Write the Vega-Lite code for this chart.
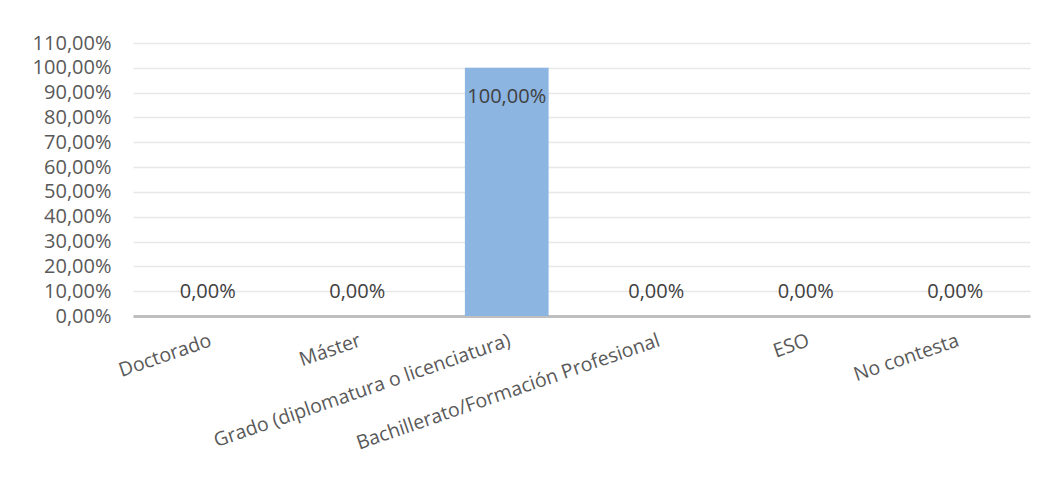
{
  "$schema": "https://vega.github.io/schema/vega-lite/v6.json",
  "autosize": {"type": "none"},
  "width": 897,
  "height": 273,
  "padding": {"left": 133, "top": 43, "right": 19, "bottom": 164},
  "background": "white",
  "data": {
    "values": [
      {"nivel": "Doctorado", "valor": 0},
      {"nivel": "Máster", "valor": 0},
      {"nivel": "Grado (diplomatura o licenciatura)", "valor": 1},
      {"nivel": "Bachillerato/Formación Profesional", "valor": 0},
      {"nivel": "ESO", "valor": 0},
      {"nivel": "No contesta", "valor": 0}
    ]
  },
  "encoding": {
    "x": {
      "field": "nivel",
      "type": "nominal",
      "sort": null,
      "scale": {"paddingInner": 0.44, "paddingOuter": 0.22},
      "axis": {
        "title": null,
        "labelAngle": -19,
        "labelFont": "Open Sans",
        "labelFontSize": 19.5,
        "labelColor": "#595959",
        "labelPadding": 15,
        "labelLimit": 0,
        "labelOverlap": false,
        "ticks": false,
        "domainColor": "#bfbfbf",
        "domainWidth": 3,
        "grid": false
      }
    },
    "y": {
      "field": "valor",
      "type": "quantitative",
      "scale": {"domain": [0, 1.1], "nice": false},
      "axis": {
        "title": null,
        "values": [0, 0.1, 0.2, 0.3, 0.4, 0.5, 0.6, 0.7, 0.8, 0.9, 1.0, 1.1],
        "format": ".2%",
        "labelFont": "Open Sans",
        "labelFontSize": 20,
        "labelColor": "#595959",
        "labelPadding": 22,
        "labelOverlap": false,
        "ticks": false,
        "domain": false,
        "grid": true,
        "gridColor": "#e8e8e8",
        "gridWidth": 1.5
      }
    }
  },
  "layer": [
    {
      "mark": {"type": "bar", "color": "#8DB5E2"}
    },
    {
      "transform": [{"filter": "datum.valor > 0"}],
      "mark": {"type": "text", "font": "Open Sans", "fontSize": 20, "color": "#404040", "baseline": "alphabetic", "dy": 35},
      "encoding": {"text": {"field": "valor", "type": "quantitative", "format": ".2%"}}
    },
    {
      "transform": [{"filter": "datum.valor == 0"}],
      "mark": {"type": "text", "font": "Open Sans", "fontSize": 20, "color": "#404040", "baseline": "alphabetic", "dy": -18},
      "encoding": {"text": {"field": "valor", "type": "quantitative", "format": ".2%"}}
    }
  ],
  "config": {
    "view": {"stroke": null},
    "locale": {
      "number": {
        "decimal": ",",
        "thousands": ".",
        "grouping": [3],
        "currency": ["", " €"]
      }
    }
  }
}
